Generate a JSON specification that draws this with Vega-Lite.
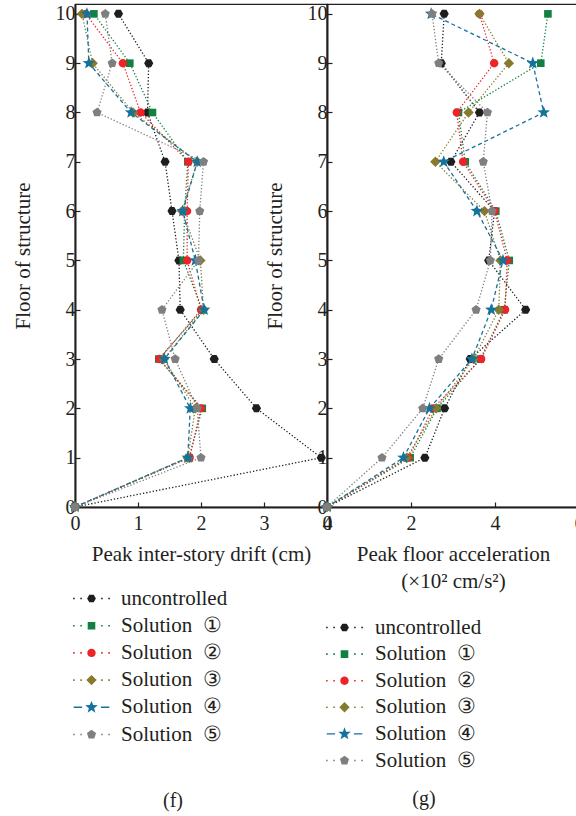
{
  "$schema": "https://vega.github.io/schema/vega-lite/v6.json",
  "background": "white",
  "padding": {"left": 11, "top": 3, "right": 0, "bottom": 0},
  "bounds": "flush",
  "spacing": 0,
  "datasets": {
    "drift": [
      {"s": "uncontrolled", "f": 0, "v": 0}, {"s": "uncontrolled", "f": 1, "v": 3.91}, {"s": "uncontrolled", "f": 2, "v": 2.88}, {"s": "uncontrolled", "f": 3, "v": 2.21}, {"s": "uncontrolled", "f": 4, "v": 1.67}, {"s": "uncontrolled", "f": 5, "v": 1.65}, {"s": "uncontrolled", "f": 6, "v": 1.54}, {"s": "uncontrolled", "f": 7, "v": 1.43}, {"s": "uncontrolled", "f": 8, "v": 1.15}, {"s": "uncontrolled", "f": 9, "v": 1.17}, {"s": "uncontrolled", "f": 10, "v": 0.69},
      {"s": "Solution\u00a0 ①", "f": 0, "v": 0}, {"s": "Solution\u00a0 ①", "f": 1, "v": 1.81}, {"s": "Solution\u00a0 ①", "f": 2, "v": 2.02}, {"s": "Solution\u00a0 ①", "f": 3, "v": 1.33}, {"s": "Solution\u00a0 ①", "f": 4, "v": 2.02}, {"s": "Solution\u00a0 ①", "f": 5, "v": 1.72}, {"s": "Solution\u00a0 ①", "f": 6, "v": 1.74}, {"s": "Solution\u00a0 ①", "f": 7, "v": 1.79}, {"s": "Solution\u00a0 ①", "f": 8, "v": 1.23}, {"s": "Solution\u00a0 ①", "f": 9, "v": 0.87}, {"s": "Solution\u00a0 ①", "f": 10, "v": 0.30},
      {"s": "Solution\u00a0 ②", "f": 0, "v": 0}, {"s": "Solution\u00a0 ②", "f": 1, "v": 1.82}, {"s": "Solution\u00a0 ②", "f": 2, "v": 2.00}, {"s": "Solution\u00a0 ②", "f": 3, "v": 1.34}, {"s": "Solution\u00a0 ②", "f": 4, "v": 2.00}, {"s": "Solution\u00a0 ②", "f": 5, "v": 1.78}, {"s": "Solution\u00a0 ②", "f": 6, "v": 1.78}, {"s": "Solution\u00a0 ②", "f": 7, "v": 1.80}, {"s": "Solution\u00a0 ②", "f": 8, "v": 1.04}, {"s": "Solution\u00a0 ②", "f": 9, "v": 0.76}, {"s": "Solution\u00a0 ②", "f": 10, "v": 0.17},
      {"s": "Solution\u00a0 ③", "f": 0, "v": 0}, {"s": "Solution\u00a0 ③", "f": 1, "v": 1.79}, {"s": "Solution\u00a0 ③", "f": 2, "v": 1.91}, {"s": "Solution\u00a0 ③", "f": 3, "v": 1.41}, {"s": "Solution\u00a0 ③", "f": 4, "v": 2.04}, {"s": "Solution\u00a0 ③", "f": 5, "v": 1.99}, {"s": "Solution\u00a0 ③", "f": 6, "v": 1.70}, {"s": "Solution\u00a0 ③", "f": 7, "v": 1.94}, {"s": "Solution\u00a0 ③", "f": 8, "v": 0.92}, {"s": "Solution\u00a0 ③", "f": 9, "v": 0.28}, {"s": "Solution\u00a0 ③", "f": 10, "v": 0.11},
      {"s": "Solution\u00a0 ④", "f": 0, "v": 0}, {"s": "Solution\u00a0 ④", "f": 1, "v": 1.79}, {"s": "Solution\u00a0 ④", "f": 2, "v": 1.83}, {"s": "Solution\u00a0 ④", "f": 3, "v": 1.42}, {"s": "Solution\u00a0 ④", "f": 4, "v": 2.05}, {"s": "Solution\u00a0 ④", "f": 5, "v": 1.91}, {"s": "Solution\u00a0 ④", "f": 6, "v": 1.71}, {"s": "Solution\u00a0 ④", "f": 7, "v": 1.94}, {"s": "Solution\u00a0 ④", "f": 8, "v": 0.89}, {"s": "Solution\u00a0 ④", "f": 9, "v": 0.22}, {"s": "Solution\u00a0 ④", "f": 10, "v": 0.19},
      {"s": "Solution\u00a0 ⑤", "f": 0, "v": 0}, {"s": "Solution\u00a0 ⑤", "f": 1, "v": 2.00}, {"s": "Solution\u00a0 ⑤", "f": 2, "v": 1.94}, {"s": "Solution\u00a0 ⑤", "f": 3, "v": 1.59}, {"s": "Solution\u00a0 ⑤", "f": 4, "v": 1.38}, {"s": "Solution\u00a0 ⑤", "f": 5, "v": 1.96}, {"s": "Solution\u00a0 ⑤", "f": 6, "v": 1.98}, {"s": "Solution\u00a0 ⑤", "f": 7, "v": 2.04}, {"s": "Solution\u00a0 ⑤", "f": 8, "v": 0.35}, {"s": "Solution\u00a0 ⑤", "f": 9, "v": 0.59}, {"s": "Solution\u00a0 ⑤", "f": 10, "v": 0.48}
    ],
    "accel": [
      {"s": "uncontrolled", "f": 0, "v": 0}, {"s": "uncontrolled", "f": 1, "v": 2.33}, {"s": "uncontrolled", "f": 2, "v": 2.80}, {"s": "uncontrolled", "f": 3, "v": 3.41}, {"s": "uncontrolled", "f": 4, "v": 4.73}, {"s": "uncontrolled", "f": 5, "v": 3.85}, {"s": "uncontrolled", "f": 6, "v": 3.99}, {"s": "uncontrolled", "f": 7, "v": 2.95}, {"s": "uncontrolled", "f": 8, "v": 3.63}, {"s": "uncontrolled", "f": 9, "v": 2.72}, {"s": "uncontrolled", "f": 10, "v": 2.79},
      {"s": "Solution\u00a0 ①", "f": 0, "v": 0}, {"s": "Solution\u00a0 ①", "f": 1, "v": 1.98}, {"s": "Solution\u00a0 ①", "f": 2, "v": 2.62}, {"s": "Solution\u00a0 ①", "f": 3, "v": 3.65}, {"s": "Solution\u00a0 ①", "f": 4, "v": 4.22}, {"s": "Solution\u00a0 ①", "f": 5, "v": 4.34}, {"s": "Solution\u00a0 ①", "f": 6, "v": 4.02}, {"s": "Solution\u00a0 ①", "f": 7, "v": 3.29}, {"s": "Solution\u00a0 ①", "f": 8, "v": 3.13}, {"s": "Solution\u00a0 ①", "f": 9, "v": 5.09}, {"s": "Solution\u00a0 ①", "f": 10, "v": 5.26},
      {"s": "Solution\u00a0 ②", "f": 0, "v": 0}, {"s": "Solution\u00a0 ②", "f": 1, "v": 1.94}, {"s": "Solution\u00a0 ②", "f": 2, "v": 2.52}, {"s": "Solution\u00a0 ②", "f": 3, "v": 3.67}, {"s": "Solution\u00a0 ②", "f": 4, "v": 4.24}, {"s": "Solution\u00a0 ②", "f": 5, "v": 4.29}, {"s": "Solution\u00a0 ②", "f": 6, "v": 3.99}, {"s": "Solution\u00a0 ②", "f": 7, "v": 3.24}, {"s": "Solution\u00a0 ②", "f": 8, "v": 3.09}, {"s": "Solution\u00a0 ②", "f": 9, "v": 3.98}, {"s": "Solution\u00a0 ②", "f": 10, "v": 3.63},
      {"s": "Solution\u00a0 ③", "f": 0, "v": 0}, {"s": "Solution\u00a0 ③", "f": 1, "v": 1.90}, {"s": "Solution\u00a0 ③", "f": 2, "v": 2.60}, {"s": "Solution\u00a0 ③", "f": 3, "v": 3.49}, {"s": "Solution\u00a0 ③", "f": 4, "v": 4.09}, {"s": "Solution\u00a0 ③", "f": 5, "v": 4.13}, {"s": "Solution\u00a0 ③", "f": 6, "v": 3.75}, {"s": "Solution\u00a0 ③", "f": 7, "v": 2.58}, {"s": "Solution\u00a0 ③", "f": 8, "v": 3.37}, {"s": "Solution\u00a0 ③", "f": 9, "v": 4.33}, {"s": "Solution\u00a0 ③", "f": 10, "v": 3.63},
      {"s": "Solution\u00a0 ④", "f": 0, "v": 0}, {"s": "Solution\u00a0 ④", "f": 1, "v": 1.82}, {"s": "Solution\u00a0 ④", "f": 2, "v": 2.44}, {"s": "Solution\u00a0 ④", "f": 3, "v": 3.45}, {"s": "Solution\u00a0 ④", "f": 4, "v": 3.91}, {"s": "Solution\u00a0 ④", "f": 5, "v": 4.19}, {"s": "Solution\u00a0 ④", "f": 6, "v": 3.57}, {"s": "Solution\u00a0 ④", "f": 7, "v": 2.78}, {"s": "Solution\u00a0 ④", "f": 8, "v": 5.16}, {"s": "Solution\u00a0 ④", "f": 9, "v": 4.90}, {"s": "Solution\u00a0 ④", "f": 10, "v": 2.48},
      {"s": "Solution\u00a0 ⑤", "f": 0, "v": 0}, {"s": "Solution\u00a0 ⑤", "f": 1, "v": 1.31}, {"s": "Solution\u00a0 ⑤", "f": 2, "v": 2.28}, {"s": "Solution\u00a0 ⑤", "f": 3, "v": 2.66}, {"s": "Solution\u00a0 ⑤", "f": 4, "v": 3.55}, {"s": "Solution\u00a0 ⑤", "f": 5, "v": 3.89}, {"s": "Solution\u00a0 ⑤", "f": 6, "v": 3.93}, {"s": "Solution\u00a0 ⑤", "f": 7, "v": 3.72}, {"s": "Solution\u00a0 ⑤", "f": 8, "v": 3.82}, {"s": "Solution\u00a0 ⑤", "f": 9, "v": 2.66}, {"s": "Solution\u00a0 ⑤", "f": 10, "v": 2.50}
    ]
  },
  "config": {
    "font": "Liberation Serif",
    "view": {"stroke": "#231f20", "strokeWidth": 1.2},
    "axis": {
      "grid": false,
      "domainColor": "#231f20", "domainWidth": 2,
      "tickColor": "#231f20", "tickWidth": 1.2, "tickSize": -5,
      "labelFont": "Liberation Serif", "labelFontSize": 20, "labelColor": "#231f20",
      "titleFont": "Liberation Serif", "titleFontSize": 21, "titleFontWeight": "normal", "titleColor": "#231f20",
      "labelFlush": false, "labelOverlap": false
    },
    "axisX": {"labelPadding": 11, "titlePadding": 10},
    "axisY": {"labelPadding": 5, "titlePadding": 22},
    "legend": {
      "padding": 0,
      "symbolSize": 64, "symbolStrokeWidth": 0, "symbolOpacity": 1,
      "labelFont": "Liberation Serif", "labelFontSize": 21, "labelColor": "#231f20", "labelLimit": 400
    },
    "title": {"font": "Liberation Serif", "fontSize": 20, "fontWeight": "normal", "color": "#231f20"}
  },
  "resolve": {"scale": {"y": "independent", "color": "independent", "stroke": "independent", "shape": "independent", "strokeDash": "independent"}},
  "hconcat": [
    {
      "width": 252, "height": 503,
      "data": {"name": "drift"},
      "title": {"text": "(f)", "orient": "bottom", "anchor": "middle", "dx": -28, "offset": 46},
      "encoding": {
        "x": {"field": "v", "type": "quantitative", "scale": {"domain": [0, 4], "nice": false, "zero": true}, "axis": {"values": [0, 1, 2, 3, 4], "title": "Peak inter-story drift (cm)"}},
        "y": {"field": "f", "type": "quantitative", "scale": {"domain": [0, 10.2], "nice": false}, "axis": {"values": [0, 1, 2, 3, 4, 5, 6, 7, 8, 9, 10], "title": "Floor of structure"}}
      },
      "layer": [
        {
          "mark": {"type": "line", "strokeWidth": 1.3},
          "encoding": {
            "stroke": {"field": "s", "type": "nominal", "legend": null, "scale": {"range": ["#118040", "#ee2328", "#857a2d", "#15729c", "#7f7f7f", "#1f1d1e"]}},
            "strokeDash": {"field": "s", "type": "nominal", "legend": null, "scale": {"range": [[1.3, 2], [1.3, 2], [1.3, 2], [4, 3], [1.3, 2], [1.3, 2]]}},
            "order": {"field": "f", "type": "quantitative"}
          }
        },
        {
          "mark": {"type": "point", "filled": true, "size": 64, "opacity": 1},
          "encoding": {
            "color": {"field": "s", "type": "nominal", "scale": {"domain": ["uncontrolled", "Solution\u00a0 ①", "Solution\u00a0 ②", "Solution\u00a0 ③", "Solution\u00a0 ④", "Solution\u00a0 ⑤"], "range": ["#1f1d1e", "#118040", "#ee2328", "#857a2d", "#15729c", "#7f7f7f"]},
              "legend": {"title": null, "orient": "none", "direction": "vertical", "legendX": 6, "legendY": 584, "labelOffset": 19, "rowPadding": 5.2,
                "encoding": {"symbols": {"opacity": {"value": 1}, "strokeWidth": {"value": 0}, "shape": {"value": {"expr": "['M1.1,0L0.55,0.95L-0.55,0.95L-1.1,0L-0.55,-0.95L0.55,-0.95ZM-4.6,-0.2h0.4v0.4h-0.4ZM-2.8,-0.2h0.4v0.4h-0.4ZM2.4,-0.2h0.4v0.4h-0.4ZM4.2,-0.2h0.4v0.4h-0.4Z', 'M-0.95,-0.95H0.95V0.95H-0.95ZM-4.6,-0.2h0.4v0.4h-0.4ZM-2.8,-0.2h0.4v0.4h-0.4ZM2.4,-0.2h0.4v0.4h-0.4ZM4.2,-0.2h0.4v0.4h-0.4Z', 'M1.05,0A1.05,1.05,0,1,1,-1.05,0A1.05,1.05,0,1,1,1.05,0ZM-4.6,-0.2h0.4v0.4h-0.4ZM-2.8,-0.2h0.4v0.4h-0.4ZM2.4,-0.2h0.4v0.4h-0.4ZM4.2,-0.2h0.4v0.4h-0.4Z', 'M0,-1.3L1.3,0L0,1.3L-1.3,0ZM-4.6,-0.2h0.4v0.4h-0.4ZM-2.8,-0.2h0.4v0.4h-0.4ZM2.4,-0.2h0.4v0.4h-0.4ZM4.2,-0.2h0.4v0.4h-0.4Z', 'M0,-1.65L0.407,-0.561L1.569,-0.51L0.659,0.214L0.97,1.335L0,0.693L-0.97,1.335L-0.659,0.214L-1.569,-0.51L-0.407,-0.561ZM-4.45,-0.17H-2.35V0.17H-4.45ZM2.35,-0.17H4.45V0.17H2.35Z', 'M0,-1.2L1.141,-0.371L0.705,0.971L-0.705,0.971L-1.141,-0.371ZM-4.6,-0.2h0.4v0.4h-0.4ZM-2.8,-0.2h0.4v0.4h-0.4ZM2.4,-0.2h0.4v0.4h-0.4ZM4.2,-0.2h0.4v0.4h-0.4Z'][datum.index]"}}}}}},
            "shape": {"field": "s", "type": "nominal", "legend": null, "scale": {"range": [
              "M-0.95,-0.95H0.95V0.95H-0.95Z",
              "M1.05,0A1.05,1.05,0,1,1,-1.05,0A1.05,1.05,0,1,1,1.05,0Z",
              "M0,-1.3L1.3,0L0,1.3L-1.3,0Z",
              "M0,-1.65L0.407,-0.561L1.569,-0.51L0.659,0.214L0.97,1.335L0,0.693L-0.97,1.335L-0.659,0.214L-1.569,-0.51L-0.407,-0.561Z",
              "M0,-1.2L1.141,-0.371L0.705,0.971L-0.705,0.971L-1.141,-0.371Z",
              "M1.15,0L0.575,1L-0.575,1L-1.15,0L-0.575,-1L0.575,-1Z"
            ]}}
          }
        }
      ]
    },
    {
      "width": 252, "height": 503,
      "data": {"name": "accel"},
      "title": {"text": "(g)", "orient": "bottom", "anchor": "middle", "dx": -29, "offset": 18},
      "encoding": {
        "x": {"field": "v", "type": "quantitative", "scale": {"domain": [0, 6], "nice": false, "zero": true}, "axis": {"values": [0, 2, 4, 6], "title": ["Peak floor acceleration", "(×10² cm/s²)"], "titleLineHeight": 27}},
        "y": {"field": "f", "type": "quantitative", "scale": {"domain": [0, 10.2], "nice": false}, "axis": {"values": [0, 1, 2, 3, 4, 5, 6, 7, 8, 9, 10], "title": "Floor of structure"}}
      },
      "layer": [
        {
          "mark": {"type": "line", "strokeWidth": 1.3},
          "encoding": {
            "stroke": {"field": "s", "type": "nominal", "legend": null, "scale": {"range": ["#118040", "#ee2328", "#857a2d", "#15729c", "#7f7f7f", "#1f1d1e"]}},
            "strokeDash": {"field": "s", "type": "nominal", "legend": null, "scale": {"range": [[1.3, 2], [1.3, 2], [1.3, 2], [4, 3], [1.3, 2], [1.3, 2]]}},
            "order": {"field": "f", "type": "quantitative"}
          }
        },
        {
          "mark": {"type": "point", "filled": true, "size": 64, "opacity": 1},
          "encoding": {
            "color": {"field": "s", "type": "nominal", "scale": {"domain": ["uncontrolled", "Solution\u00a0 ①", "Solution\u00a0 ②", "Solution\u00a0 ③", "Solution\u00a0 ④", "Solution\u00a0 ⑤"], "range": ["#1f1d1e", "#118040", "#ee2328", "#857a2d", "#15729c", "#7f7f7f"]},
              "legend": {"title": null, "orient": "none", "direction": "vertical", "legendX": 7, "legendY": 613, "labelOffset": 20, "rowPadding": 4.6,
                "encoding": {"symbols": {"opacity": {"value": 1}, "strokeWidth": {"value": 0}, "shape": {"value": {"expr": "['M1.1,0L0.55,0.95L-0.55,0.95L-1.1,0L-0.55,-0.95L0.55,-0.95ZM-4.6,-0.2h0.4v0.4h-0.4ZM-2.8,-0.2h0.4v0.4h-0.4ZM2.4,-0.2h0.4v0.4h-0.4ZM4.2,-0.2h0.4v0.4h-0.4Z', 'M-0.95,-0.95H0.95V0.95H-0.95ZM-4.6,-0.2h0.4v0.4h-0.4ZM-2.8,-0.2h0.4v0.4h-0.4ZM2.4,-0.2h0.4v0.4h-0.4ZM4.2,-0.2h0.4v0.4h-0.4Z', 'M1.05,0A1.05,1.05,0,1,1,-1.05,0A1.05,1.05,0,1,1,1.05,0ZM-4.6,-0.2h0.4v0.4h-0.4ZM-2.8,-0.2h0.4v0.4h-0.4ZM2.4,-0.2h0.4v0.4h-0.4ZM4.2,-0.2h0.4v0.4h-0.4Z', 'M0,-1.3L1.3,0L0,1.3L-1.3,0ZM-4.6,-0.2h0.4v0.4h-0.4ZM-2.8,-0.2h0.4v0.4h-0.4ZM2.4,-0.2h0.4v0.4h-0.4ZM4.2,-0.2h0.4v0.4h-0.4Z', 'M0,-1.65L0.407,-0.561L1.569,-0.51L0.659,0.214L0.97,1.335L0,0.693L-0.97,1.335L-0.659,0.214L-1.569,-0.51L-0.407,-0.561ZM-4.45,-0.17H-2.35V0.17H-4.45ZM2.35,-0.17H4.45V0.17H2.35Z', 'M0,-1.2L1.141,-0.371L0.705,0.971L-0.705,0.971L-1.141,-0.371ZM-4.6,-0.2h0.4v0.4h-0.4ZM-2.8,-0.2h0.4v0.4h-0.4ZM2.4,-0.2h0.4v0.4h-0.4ZM4.2,-0.2h0.4v0.4h-0.4Z'][datum.index]"}}}}}},
            "shape": {"field": "s", "type": "nominal", "legend": null, "scale": {"range": [
              "M-0.95,-0.95H0.95V0.95H-0.95Z",
              "M1.05,0A1.05,1.05,0,1,1,-1.05,0A1.05,1.05,0,1,1,1.05,0Z",
              "M0,-1.3L1.3,0L0,1.3L-1.3,0Z",
              "M0,-1.65L0.407,-0.561L1.569,-0.51L0.659,0.214L0.97,1.335L0,0.693L-0.97,1.335L-0.659,0.214L-1.569,-0.51L-0.407,-0.561Z",
              "M0,-1.2L1.141,-0.371L0.705,0.971L-0.705,0.971L-1.141,-0.371Z",
              "M1.15,0L0.575,1L-0.575,1L-1.15,0L-0.575,-1L0.575,-1Z"
            ]}}
          }
        }
      ]
    }
  ]
}
